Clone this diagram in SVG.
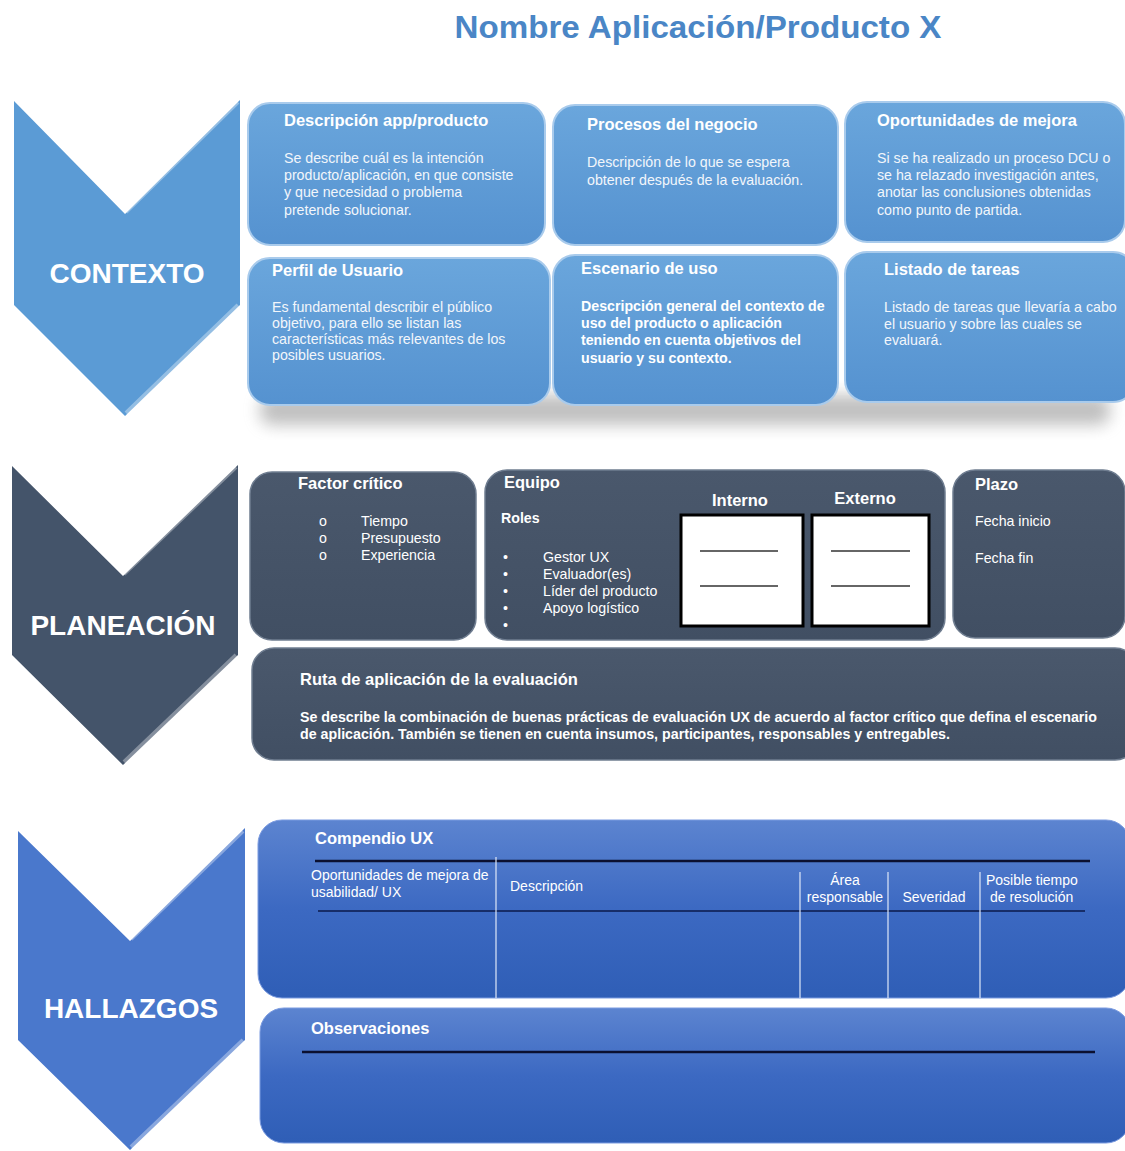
<svg xmlns="http://www.w3.org/2000/svg" width="1125" height="1151" viewBox="0 0 1125 1151">
  <defs>
    <linearGradient id="gLight" x1="0" y1="0" x2="0" y2="1">
      <stop offset="0" stop-color="#6aa6dc"/>
      <stop offset="1" stop-color="#5592d0"/>
    </linearGradient>
    <linearGradient id="gDark" x1="0" y1="0" x2="0" y2="1">
      <stop offset="0" stop-color="#4a586c"/>
      <stop offset="1" stop-color="#414f63"/>
    </linearGradient>
    <linearGradient id="gBlue" x1="0" y1="0" x2="0" y2="1">
      <stop offset="0" stop-color="#5c84d0"/>
      <stop offset="0.5" stop-color="#3c69c2"/>
      <stop offset="1" stop-color="#2f5eb6"/>
    </linearGradient>
    <filter id="soft" x="-10%" y="-50%" width="120%" height="200%">
      <feGaussianBlur stdDeviation="8"/>
    </filter>
    <style>
      text { font-family: "Liberation Sans", Arial, sans-serif; }
      .box-light { fill: url(#gLight); stroke: #a9cbec; stroke-width: 2; }
      .box-dark { fill: url(#gDark); stroke: #6f7d90; stroke-width: 1.5; }
      .box-blue { fill: url(#gBlue); stroke: #7b9be0; stroke-width: 1; }
      .chev-label { font-size: 28px; font-weight: bold; fill: #ffffff; text-anchor: middle; }
      .bevel { fill: none; stroke: #ffffff; stroke-opacity: 0.35; stroke-width: 4; }
      .head { font-size: 16.5px; font-weight: bold; fill: #ffffff; }
      .body { font-size: 14.2px; fill: #f2f6fb; }
      .body-b { font-size: 14.2px; font-weight: bold; fill: #ffffff; }
      .pl { font-size: 14.2px; fill: #ffffff; }
      .narrow { font-family: "Liberation Sans Narrow", "Liberation Sans", Arial, sans-serif; fill: #ffffff; }
      .rule { stroke: #0b1030; stroke-width: 2.5; }
      .col { stroke: #dfe8f8; stroke-width: 1.2; }
    </style>
  </defs>

  <rect width="1125" height="1151" fill="#ffffff"/>

  <!-- Title -->
  <text x="698" y="38" text-anchor="middle" font-size="31" font-weight="bold" fill="#4a86c6" textLength="487" lengthAdjust="spacingAndGlyphs">Nombre Aplicación/Producto X</text>

  <!-- ========== CONTEXTO ========== -->
  <g id="chevron-contexto">
    <path d="M14,101 L125,214 L240,100 L240,305 L125,416 L14,305 Z" fill="#5b9bd5"/>
    <path class="bevel" d="M126,212 L238,102 M238,305 L126,413"/>
    <text class="chev-label" x="127" y="283">CONTEXTO</text>
  </g>

  <!-- soft shadow under the second row of context cards -->
  <rect x="260" y="395" width="850" height="30" rx="12" fill="#8c8c8c" opacity="0.55" filter="url(#soft)"/>

  <g id="descripcion-app">
    <rect class="box-light" x="248" y="103" width="297" height="142" rx="22"/>
    <text class="head" x="284" y="126">Descripción app/producto</text>
    <text class="body" x="284" y="163">Se describe cuál es la intención</text>
    <text class="body" x="284" y="180">producto/aplicación, en que consiste</text>
    <text class="body" x="284" y="197">y que necesidad o problema</text>
    <text class="body" x="284" y="215">pretende solucionar.</text>
  </g>

  <g id="procesos-negocio">
    <rect class="box-light" x="553" y="105" width="285" height="140" rx="22"/>
    <text class="head" x="587" y="130">Procesos del negocio</text>
    <text class="body" x="587" y="167">Descripción de lo que se espera</text>
    <text class="body" x="587" y="185">obtener después de la evaluación.</text>
  </g>

  <g id="oportunidades-mejora">
    <rect class="box-light" x="845" y="102" width="280" height="140" rx="22"/>
    <text class="head" x="877" y="126">Oportunidades de mejora</text>
    <text class="body" x="877" y="163">Si se ha realizado un proceso DCU o</text>
    <text class="body" x="877" y="180">se ha relazado investigación antes,</text>
    <text class="body" x="877" y="197">anotar las conclusiones obtenidas</text>
    <text class="body" x="877" y="215">como punto de partida.</text>
  </g>

  <g id="perfil-usuario">
    <rect class="box-light" x="248" y="258" width="302" height="147" rx="22"/>
    <text class="head" x="272" y="276">Perfil de Usuario</text>
    <text class="body" x="272" y="312">Es fundamental describir el público</text>
    <text class="body" x="272" y="328">objetivo, para ello se listan las</text>
    <text class="body" x="272" y="344">características más relevantes de los</text>
    <text class="body" x="272" y="360">posibles usuarios.</text>
  </g>

  <g id="escenario-uso">
    <rect class="box-light" x="553" y="255" width="285" height="150" rx="22"/>
    <text class="head" x="581" y="274">Escenario de uso</text>
    <text class="body-b" x="581" y="311">Descripción general del contexto de</text>
    <text class="body-b" x="581" y="328">uso del producto o aplicación</text>
    <text class="body-b" x="581" y="345">teniendo en cuenta objetivos del</text>
    <text class="body-b" x="581" y="363">usuario y su contexto.</text>
  </g>

  <g id="listado-tareas">
    <rect class="box-light" x="845" y="252" width="290" height="150" rx="22"/>
    <text class="head" x="884" y="275">Listado de tareas</text>
    <text class="body" x="884" y="312">Listado de tareas que llevaría a cabo</text>
    <text class="body" x="884" y="329">el usuario y sobre las cuales se</text>
    <text class="body" x="884" y="345">evaluará.</text>
  </g>

  <!-- ========== PLANEACIÓN ========== -->
  <g id="chevron-planeacion">
    <path d="M12,466 L123,576 L238,465 L238,655 L123,765 L12,655 Z" fill="#44546a"/>
    <path class="bevel" d="M124,574 L236,467 M236,655 L124,762" stroke-opacity="0.25"/>
    <text class="chev-label" x="123" y="635">PLANEACIÓN</text>
  </g>

  <g id="factor-critico">
    <rect class="box-dark" x="250" y="472" width="226" height="168" rx="22"/>
    <text class="head" x="298" y="489">Factor crítico</text>
    <text class="pl" x="319" y="526">o</text>
    <text class="pl" x="319" y="543">o</text>
    <text class="pl" x="319" y="560">o</text>
    <text class="pl" x="361" y="526">Tiempo</text>
    <text class="pl" x="361" y="543">Presupuesto</text>
    <text class="pl" x="361" y="560">Experiencia</text>
  </g>

  <g id="equipo">
    <rect class="box-dark" x="485" y="470" width="460" height="170" rx="22"/>
    <text class="head" x="504" y="488">Equipo</text>
    <text class="pl" x="501" y="523" font-weight="bold">Roles</text>
    <text class="pl" x="503" y="562">•</text>
    <text class="pl" x="503" y="579">•</text>
    <text class="pl" x="503" y="596">•</text>
    <text class="pl" x="503" y="613">•</text>
    <text class="pl" x="503" y="630">•</text>
    <text class="pl" x="543" y="562">Gestor UX</text>
    <text class="pl" x="543" y="579">Evaluador(es)</text>
    <text class="pl" x="543" y="596">Líder del producto</text>
    <text class="pl" x="543" y="613">Apoyo logístico</text>
    <text class="head" x="740" y="506" text-anchor="middle">Interno</text>
    <text class="head" x="865" y="504" text-anchor="middle">Externo</text>
    <rect x="681" y="515" width="122" height="111" fill="#ffffff" stroke="#000000" stroke-width="3"/>
    <rect x="812" y="515" width="117" height="111" fill="#ffffff" stroke="#000000" stroke-width="3"/>
    <g stroke="#333333" stroke-width="1.5">
      <line x1="700" y1="551" x2="778" y2="551"/>
      <line x1="700" y1="586" x2="778" y2="586"/>
      <line x1="831" y1="551" x2="910" y2="551"/>
      <line x1="831" y1="586" x2="910" y2="586"/>
    </g>
  </g>

  <g id="plazo">
    <rect class="box-dark" x="953" y="470" width="172" height="168" rx="22"/>
    <text class="head" x="975" y="490">Plazo</text>
    <text class="pl" x="975" y="526">Fecha inicio</text>
    <text class="pl" x="975" y="563">Fecha fin</text>
  </g>

  <g id="ruta-aplicacion">
    <rect class="box-dark" x="252" y="648" width="885" height="112" rx="22"/>
    <text class="head" x="300" y="685">Ruta de aplicación de la evaluación</text>
    <text class="body-b" x="300" y="722" font-size="13" textLength="797" lengthAdjust="spacingAndGlyphs">Se describe la combinación de buenas prácticas de evaluación UX de acuerdo al factor crítico que defina el escenario</text>
    <text class="body-b" x="300" y="739" font-size="13" textLength="650" lengthAdjust="spacingAndGlyphs">de aplicación. También se tienen en cuenta insumos, participantes, responsables y entregables.</text>
  </g>

  <!-- ========== HALLAZGOS ========== -->
  <g id="chevron-hallazgos">
    <path d="M18,831 L130,941 L245,828 L245,1040 L130,1150 L18,1040 Z" fill="#4a78cc"/>
    <path class="bevel" d="M131,939 L243,831 M243,1040 L131,1147" stroke-opacity="0.3"/>
    <text class="chev-label" x="131" y="1018">HALLAZGOS</text>
  </g>

  <g id="compendio-ux">
    <rect class="box-blue" x="258" y="820" width="872" height="178" rx="24"/>
    <text class="narrow" x="315" y="844" font-size="16.5" font-weight="bold">Compendio UX</text>
    <line class="rule" x1="315" y1="861" x2="1090" y2="861"/>
    <text class="narrow" x="311" y="880" font-size="14">Oportunidades de mejora de</text>
    <text class="narrow" x="311" y="897" font-size="14">usabilidad/ UX</text>
    <text class="narrow" x="510" y="891" font-size="14">Descripción</text>
    <text class="narrow" x="845" y="885" font-size="14" text-anchor="middle">Área</text>
    <text class="narrow" x="845" y="902" font-size="14" text-anchor="middle">responsable</text>
    <text class="narrow" x="934" y="902" font-size="14" text-anchor="middle">Severidad</text>
    <text class="narrow" x="986" y="885" font-size="14">Posible tiempo</text>
    <text class="narrow" x="990" y="902" font-size="14">de resolución</text>
    <line x1="318" y1="911" x2="1085" y2="911" stroke="#0b1a4a" stroke-width="1.5"/>
    <line class="col" x1="496" y1="857" x2="496" y2="998"/>
    <line class="col" x1="800" y1="872" x2="800" y2="998"/>
    <line class="col" x1="888" y1="872" x2="888" y2="998"/>
    <line class="col" x1="980" y1="872" x2="980" y2="998"/>
  </g>

  <g id="observaciones">
    <rect class="box-blue" x="260" y="1008" width="870" height="135" rx="24"/>
    <text class="narrow" x="311" y="1034" font-size="16.5" font-weight="bold">Observaciones</text>
    <line class="rule" x1="302" y1="1052" x2="1095" y2="1052"/>
  </g>
</svg>
